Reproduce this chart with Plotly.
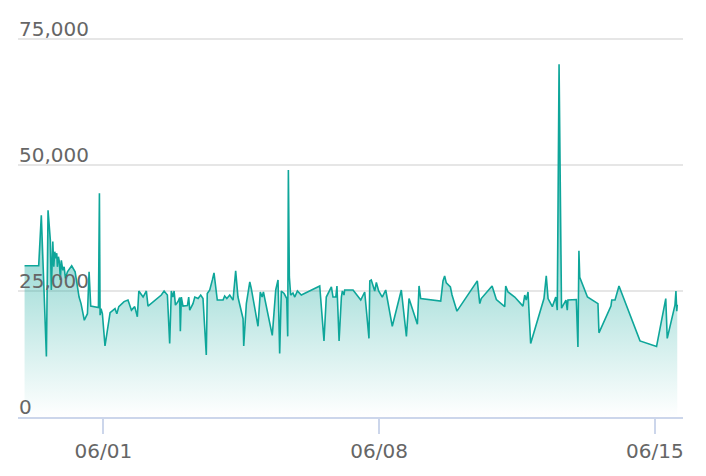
import pandas as pd
import plotly.graph_objects as go

# hours elapsed since 2024-05-30 00:00
hours = [0.0, 8.6, 10.2, 13.3, 14.3, 15.7, 16.3, 17.2, 17.8, 18.4, 19.0, 19.6, 20.0, 20.6, 21.2, 21.8,
         22.4, 23.3, 24.1, 24.9, 26.1, 28.7, 30.8, 33.2, 34.4, 36.4, 38.3, 39.3, 40.3, 45.0, 45.6, 46.0,
         46.6, 47.4, 49.0, 52.1, 55.1, 56.2, 57.4, 58.8, 60.6, 63.0, 65.1, 67.1, 68.7, 69.6, 72.2, 74.2,
         75.2, 83.3, 85.0, 87.0, 88.4, 89.4, 90.3, 91.1, 91.9, 93.5, 94.5, 94.9, 95.5, 96.5, 99.2, 100.0,
         100.6, 102.6, 103.7, 105.7, 107.3, 108.7, 110.7, 111.3, 112.8, 114.4, 115.4, 117.4, 120.9, 121.9,
         123.2, 125.0, 127.0, 128.6, 130.0, 133.1, 133.5, 135.1, 137.2, 138.1, 142.2, 143.6, 144.7, 145.5,
         150.9, 153.0, 154.4, 155.4, 156.4, 158.1, 159.7, 160.3, 160.7, 161.3, 162.1, 163.5, 164.6, 166.2,
         168.6, 179.8, 182.4, 183.8, 186.9, 187.9, 189.6, 190.3, 191.6, 193.0, 193.6, 194.6, 195.0, 200.1,
         204.8, 207.2, 209.8, 210.3, 211.2, 213.3, 214.3, 215.7, 217.9, 220.0, 224.0, 229.5, 232.6, 234.2,
         239.3, 240.3, 241.3, 253.5, 254.9, 255.9, 256.9, 259.4, 260.4, 263.4, 275.8, 277.3, 278.2, 284.8,
         287.4, 292.5, 293.1, 294.5, 298.6, 303.6, 304.7, 305.6, 306.7, 308.3, 316.4, 317.8, 318.9, 321.5,
         323.6, 324.5, 325.6, 327.1, 329.8, 330.6, 331.0, 336.1, 337.1, 337.7, 338.2, 342.9, 349.3, 349.9,
         357.2, 357.7, 359.7, 362.1, 374.9, 385.0, 390.6, 391.5, 396.2, 396.8, 397.3, 397.6]

values = [30000, 30000, 40000, 12000, 41000, 35100, 25200, 34800, 29800, 32800, 31500, 32500, 29800, 31800,
          30800, 27200, 31100, 29100, 29800, 27500, 28800, 30000, 28800, 23800, 22500, 19200, 20500, 28800,
          22000, 21700, 44400, 20200, 21500, 20500, 14100, 20700, 21500, 20500, 21900, 22400, 22900, 23200,
          21200, 21900, 19900, 25000, 23800, 25000, 22000, 24200, 25000, 24200, 14600, 25000, 23800, 25000,
          22200, 22900, 23700, 17000, 23800, 22000, 22100, 23800, 21200, 22500, 23800, 23500, 24200, 23500,
          12300, 24500, 25200, 27200, 28600, 23200, 23200, 24000, 23500, 24200, 23200, 29000, 23800, 19500,
          14100, 22500, 26800, 25500, 18000, 24800, 23800, 24800, 16200, 25200, 27200, 12600, 25000, 24500,
          23500, 16000, 49000, 27800, 24200, 24600, 23800, 25000, 24200, 26000, 15100, 23800, 25800, 23800,
          23800, 26000, 15100, 23800, 25000, 24200, 25200, 25200, 23200, 24800, 15600, 27000, 27200, 25000,
          26700, 25000, 23800, 25200, 18000, 25200, 16000, 23500, 18400, 26000, 23500, 23000, 27000, 28000,
          26600, 25800, 24200, 21000, 27000, 22500, 23500, 26000, 23300, 21900, 26000, 24800, 23800, 22000,
          24200, 23200, 24800, 14600, 23500, 28000, 23500, 21900, 23800, 21200, 70000, 21600, 23200, 21200,
          23200, 23300, 13900, 33000, 27700, 23800, 22500, 16700, 22000, 23200, 23200, 26000, 15100, 14000,
          23500, 15600, 22200, 25000, 21000, 22300]

tick_dates = ["2024-06-01", "2024-06-08", "2024-06-15"]
tick_text = ["06/01", "06/08", "06/15"]
y_ticks = [0, 25000, 50000, 75000]

times = pd.Timestamp("2024-05-30") + pd.to_timedelta(hours, unit="h")

LINE = "rgb(14,166,154)"
FONT = "DejaVu Sans, Verdana, sans-serif"

fig = go.Figure()
fig.add_trace(go.Scatter(
    x=times, y=values, mode="lines",
    line=dict(color=LINE, width=1.6),
    fill="tozeroy",
    fillgradient=dict(type="vertical", start=0, stop=75000,
                      colorscale=[[0, "rgba(14,166,154,0.0)"], [1, "rgba(14,166,154,0.95)"]]),
    hoverinfo="x+y",
))

# y-axis labels drawn inside the plot, just above each gridline
for v in y_ticks:
    fig.add_annotation(
        x=0, xref="paper", y=v, yref="y",
        text=f"{v:,}", showarrow=False,
        xanchor="left", yanchor="bottom", xshift=-1, yshift=-4,
        font=dict(family=FONT, size=20, color="#666666"),
    )

fig.update_layout(
    width=706, height=476,
    margin=dict(l=18, r=23, t=38, b=59),
    paper_bgcolor="white", plot_bgcolor="white",
    showlegend=False,
    font=dict(family=FONT, size=20, color="#666666"),
)
fig.update_xaxes(
    type="date",
    range=[pd.Timestamp("2024-05-30") - pd.Timedelta(hours=4.0),
           pd.Timestamp("2024-05-30") + pd.Timedelta(hours=401.1)],
    tickvals=pd.to_datetime(tick_dates), ticktext=tick_text,
    showgrid=False, showline=True, linecolor="#ccd6eb", linewidth=1.5,
    ticks="outside", ticklen=15, tickcolor="#ccd6eb", tickwidth=1.5,
    tickfont=dict(size=20, color="#666666"),
    zeroline=False,
)
fig.update_yaxes(
    range=[0, 75200], tickvals=y_ticks,
    showticklabels=False,
    showgrid=True, gridcolor="#e6e6e6", gridwidth=1.5,
    zeroline=False, showline=False, ticks="",
)

fig.write_html("out.html")
